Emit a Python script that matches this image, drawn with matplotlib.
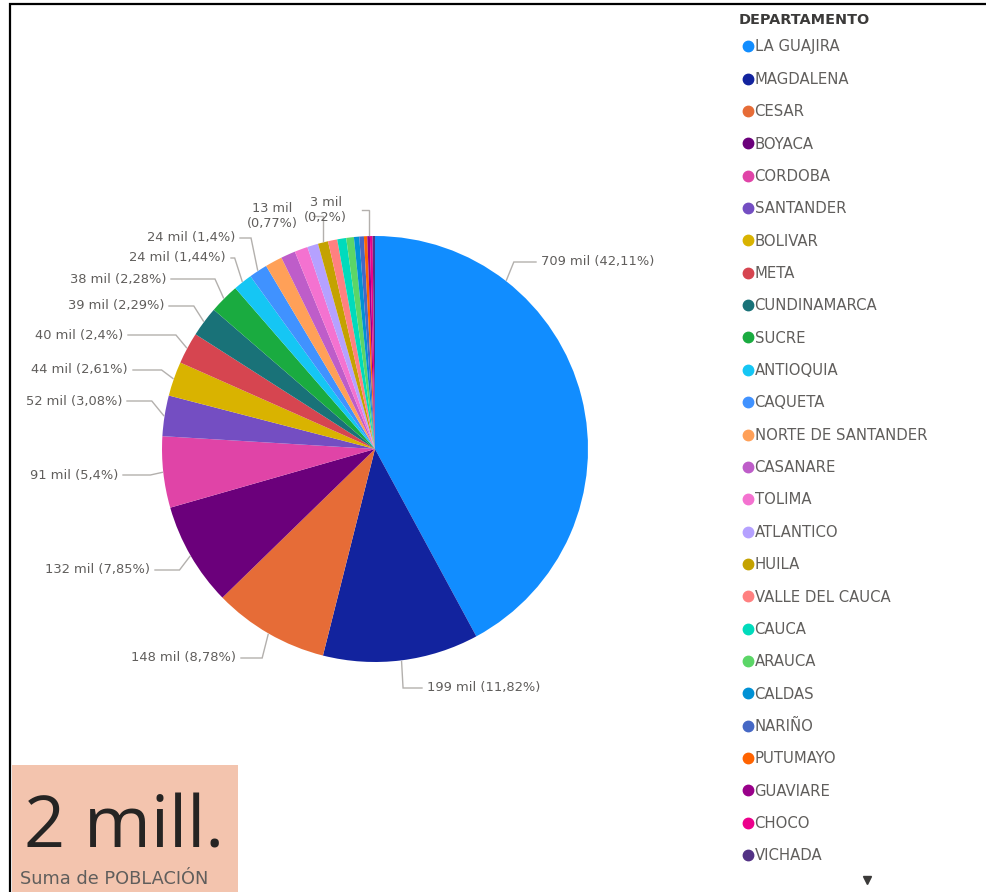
import numpy as np
import matplotlib.pyplot as plt
from matplotlib.lines import Line2D
from matplotlib.patches import Rectangle

plt.rcParams['font.family'] = ['DejaVu Sans']

# poblacion por departamento, en miles
departamentos = ['LA GUAJIRA', 'MAGDALENA', 'CESAR', 'BOYACA', 'CORDOBA', 'SANTANDER',
                 'BOLIVAR', 'META', 'CUNDINAMARCA', 'SUCRE', 'ANTIOQUIA', 'CAQUETA',
                 'NORTE DE SANTANDER', 'CASANARE', 'TOLIMA', 'ATLANTICO', 'HUILA',
                 'VALLE DEL CAUCA', 'CAUCA', 'ARAUCA', 'CALDAS', 'NARIÑO', 'PUTUMAYO',
                 'GUAVIARE', 'CHOCO', 'VICHADA']
poblacion = [709.13, 199.05, 147.86, 132.19, 90.94, 51.87,
             43.95, 40.42, 38.56, 38.40, 24.25, 23.58,
             21.89, 18.52, 16.84, 13.98, 12.97,
             11.79, 11.45, 9.77, 6.74, 5.89, 4.21,
             3.37, 3.37, 3.03]
colores = ['#118DFF', '#12239E', '#E66C37', '#6B007B', '#E044A7', '#744EC2',
           '#D9B300', '#D64550', '#197278', '#1AAB40', '#15C6F4', '#4092FF',
           '#FFA058', '#BE5DC9', '#F472D0', '#B5A1FF', '#C4A200',
           '#FF8080', '#00DBBC', '#5BD667', '#0091D5', '#4668C5', '#FF6300',
           '#99008A', '#EC008C', '#533285']

# etiquetas visibles: posicion del texto (px) y si van en dos lineas
etiquetas = {
    'LA GUAJIRA': (541, 262, False), 'MAGDALENA': (427, 688, False),
    'CESAR': (236, 658, False), 'BOYACA': (150, 570, False),
    'CORDOBA': (118, 475, False), 'SANTANDER': (122, 401, False),
    'BOLIVAR': (128, 370, False), 'META': (123, 335, False),
    'CUNDINAMARCA': (164, 306, False), 'SUCRE': (166, 279, False),
    'ANTIOQUIA': (226, 258, False), 'CAQUETA': (235, 238, False),
    'HUILA': (298, 216, True), 'GUAVIARE': (347, 210, True),
}
fraccion_ancla = {'LA GUAJIRA': 0.25}

W, H = 987, 892
GRIS = '#605E5C'
LINEA = '#B3B0AD'


def py(y):
    # coordenada y en pixeles (desde arriba) a datos
    return H - y


def formato(v, total):
    pct = f"{round(v / total * 100, 2):.2f}".rstrip('0').rstrip('.').replace('.', ',')
    return f"{round(v):.0f} mil", f"({pct}%)"


fig = plt.figure(figsize=(W / 100, H / 100), dpi=100)
ax = fig.add_axes([0, 0, 1, 1])

cx, cy, R = 375, py(449), 213
wedges, _ = ax.pie(poblacion, colors=colores, startangle=90, counterclock=False,
                   center=(cx, cy), radius=R, wedgeprops=dict(linewidth=0))
total = sum(poblacion)

for w, nombre, v in zip(wedges, departamentos, poblacion):
    if nombre not in etiquetas:
        continue
    tx, ty, dos_lineas = etiquetas[nombre]
    ty = py(ty)
    f = fraccion_ancla.get(nombre, 0.5)
    ang = np.radians(w.theta2 - f * (w.theta2 - w.theta1))
    dx, dy = np.cos(ang), np.sin(ang)
    ax0, ay0 = cx + (R + 1) * dx, cy + (R + 1) * dy
    val, pct = formato(v, total)
    if dos_lineas:
        xs = [ax0, ax0, tx + 15]
        ys = [ay0, ty, ty]
        ax.text(tx, ty, f"{val}\n{pct}", ha='right', va='center', multialignment='center',
                fontsize=9.3, color=GRIS, linespacing=1.2)
    else:
        ex = ax0 + 12 * dx
        lado = 1 if tx > cx else -1
        xs = [ax0, ex, tx - 5 * lado]
        ys = [ay0, ty, ty]
        ax.text(tx, ty, f"{val} {pct}", ha='left' if lado > 0 else 'right', va='center',
                fontsize=9.4, color=GRIS)
    ax.plot(xs, ys, color=LINEA, lw=1, solid_joinstyle='miter')

ax.set_xlim(0, W)
ax.set_ylim(0, H)
ax.set_aspect('auto')
ax.axis('off')

# leyenda
ax.text(739, py(20), 'DEPARTAMENTO', fontsize=10.4, fontweight='bold', color='#3B3A39',
        va='center', ha='left')
handles = [Line2D([], [], marker='o', linestyle='', markersize=7.5, color=c) for c in colores]
leg = ax.legend(handles, departamentos, loc='upper left', bbox_to_anchor=(736 / W, py(32) / H),
                frameon=False, fontsize=10.7, labelspacing=1.168,
                handlelength=0.55, handletextpad=0.2, borderpad=0)
for t in leg.get_texts():
    t.set_color(GRIS)
ax.plot([867], [py(880)], marker='v', markersize=6, color='#3B3A39', linestyle='')

# tarjeta con el total
ax.add_patch(Rectangle((12, 0), 226, py(765), facecolor='#F3C4AE', edgecolor='none'))
ax.text(24, py(848), '2 mill.', fontsize=52, color='#252423', va='baseline', ha='left',
        family='Open Sans')
ax.text(20, py(879), 'Suma de POBLACIÓN', fontsize=12.8, color=GRIS, va='center', ha='left')

# borde
ax.plot([10, 10, W], [0, py(4), py(4)], color='black', lw=1.6, solid_joinstyle='miter')

fig.savefig('out.png', dpi=100)
